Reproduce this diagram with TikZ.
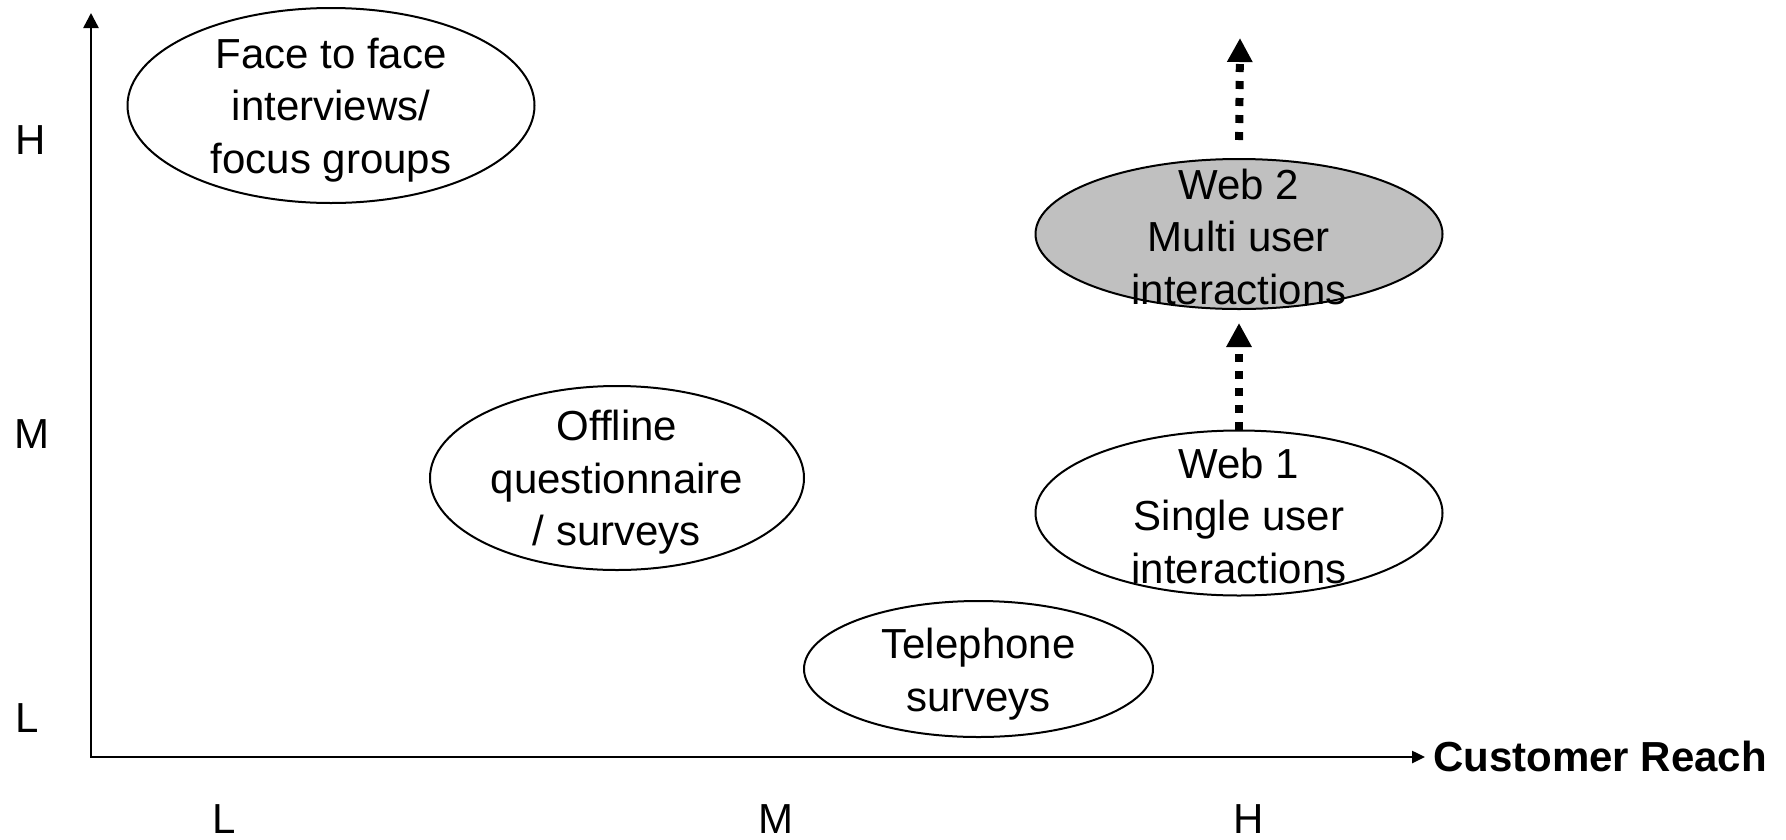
\documentclass[tikz,border=0pt]{standalone}
\usepackage{fontspec}
\setmainfont{Liberation Sans}
\usetikzlibrary{shapes.geometric,arrows.meta}
\definecolor{webgray}{RGB}{192,192,192}
\begin{document}
\begin{tikzpicture}[x=1pt,y=-1pt,
  bubble/.style={ellipse,draw,line width=2pt,inner sep=0pt},
  txt/.style={align=center,font=\fontsize{42}{52.5}\selectfont,inner sep=0pt},
  tick/.style={font=\fontsize{42}{50}\selectfont,inner sep=0pt},
  axes/.style={line width=2.5pt,{Triangle[length=15pt,width=15pt]}-{Triangle[length=13pt,width=12pt]}},
  growth/.style={line width=8pt,dash pattern=on 8pt off 9pt,-{Triangle[length=24pt,width=24pt]}}]
\useasboundingbox (0,0) rectangle (1786,839);

% axes
\coordinate (O) at (91,757);
\coordinate (ytop) at (91,13);
\coordinate (xend) at (1425,757);
\draw[axes] (ytop) -- (O) -- (xend);
\node[anchor=west,inner sep=0pt,font=\fontsize{42}{50}\selectfont\bfseries] (xlab) at (1433,756) {Customer Reach};

% scale letters
\node[tick] (yH) at (31,140) {H};
\node[tick] (yM) at (32,434) {M};
\node[tick] (yL) at (27,718) {L};
\node[tick] (xL) at (224,819) {L};
\node[tick] (xM) at (776,819) {M};
\node[tick] (xH) at (1249,819) {H};

% channels
\node[bubble,minimum width=407pt,minimum height=195pt] (ftf) at (331,105.5) {};
\node[txt,yshift=-4.5pt] (ftft) at (ftf) {Face to face\\interviews/\\focus groups};

\node[bubble,fill=webgray,minimum width=407pt,minimum height=150pt] (web2) at (1239,234) {};
\node[txt,yshift=-2.5pt] (web2t) at (web2) {Web 2\\Multi user\\interactions};

\node[bubble,minimum width=374pt,minimum height=184pt] (off) at (617,478) {};
\node[txt,yshift=-4.5pt] (offt) at (off) {Offline\\questionnaire\\/ surveys};

\node[bubble,minimum width=407pt,minimum height=165pt] (web1) at (1239,513) {};
\node[txt,yshift=-2.5pt] (web1t) at (web1) {Web 1\\Single user\\interactions};

\node[bubble,minimum width=349pt,minimum height=136pt] (tel) at (978.5,669) {};
\node[txt,yshift=-5pt] (telt) at (tel) {Telephone\\surveys};

% growth arrows
\coordinate (next) at (1240,38);
\draw[growth,shorten >=13pt] (web1.north) -- (web2.south);
\draw[growth,shorten <=18pt] (web2.north) -- (next);
\end{tikzpicture}
\end{document}
